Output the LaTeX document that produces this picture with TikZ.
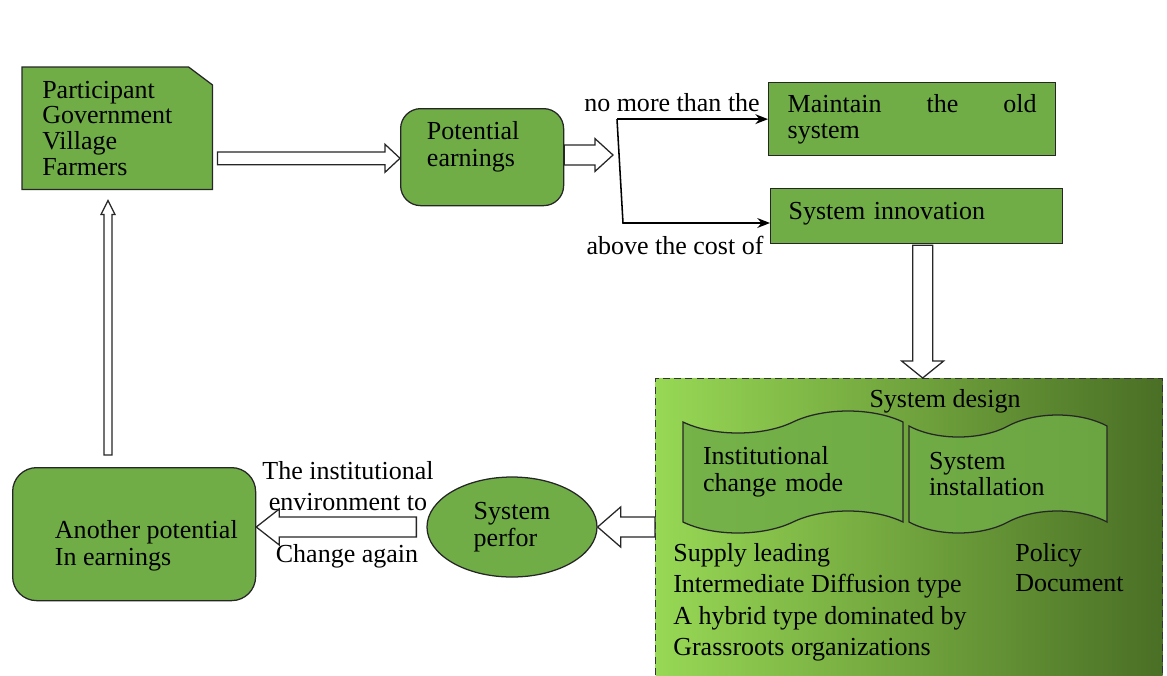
\documentclass[tikz,border=0pt]{standalone}
\usepackage{fontspec}
\setmainfont{Liberation Serif}
\usetikzlibrary{shapes,calc,positioning,arrows.meta,backgrounds}
\definecolor{boxgreen}{HTML}{70AD47}
\definecolor{lightgreen}{HTML}{97D855}
\definecolor{midgreen}{HTML}{86C44B}
\definecolor{darkgreen}{HTML}{4A6F25}

% hollow block arrow: start, end, shaft half width, head half width, head length
\newcommand{\hollowarrow}[5]{%
  \coordinate (tmph) at ($(#2)!#5!(#1)$);
  \draw[blockarrow] ($(#1)!#3!90:(#2)$) -- ($(tmph)!#3!90:(#2)$) -- ($(tmph)!#4!90:(#2)$)
    -- (#2) -- ($(tmph)!#4!-90:(#2)$) -- ($(tmph)!#3!-90:(#2)$) -- ($(#1)!#3!-90:(#2)$) -- cycle;
}

\begin{document}
\begin{tikzpicture}[x=0.25mm, y=-0.25mm,
    every node/.style={font=\fontsize{18.5}{19}\selectfont},
    gbox/.style={draw=black!85, fill=boxgreen, line width=0.9pt},
    blockarrow/.style={draw=black!85, fill=white, line width=0.9pt, line join=miter},
    thinarrow/.style={draw=black, line width=1.1pt, -{Stealth[length=9pt,width=7pt]}},
    tapebox/.style={gbox, tape, fill opacity=0.85, text opacity=1, tape bend height=5.5mm, align=left}]

    \useasboundingbox (0,0) rectangle (1167,675);

    % Design region
    \node[draw=black!80, dashed, dash pattern=on 5pt off 3pt, line width=0.8pt,
          left color=lightgreen, middle color=midgreen, right color=darkgreen,
          anchor=north west, minimum width=507*0.25mm, minimum height=305*0.25mm] (design) at (655,378) {};

    % Participant
    \node[anchor=north west, minimum width=190*0.25mm, minimum height=122*0.25mm,
          inner xsep=20*0.25mm, text width=150*0.25mm, align=left,
          font=\fontsize{18.5}{18.3}\selectfont] (part) at (22,67)
          {Participant\\Government\\Village\\Farmers};
    \begin{scope}[on background layer]
      \draw[gbox] (part.south west) -- (part.north west) -- ($(part.north east)+(-24,0)$)
        -- ($(part.north east)+(0,18)$) -- (part.south east) -- cycle;
    \end{scope}

    % Potential earnings
    \node[gbox, rounded corners=5mm, anchor=north west, minimum width=163*0.25mm,
          minimum height=97*0.25mm] (pot) at (400,108) {};
    \node[anchor=west, align=left] (pottxt) at (422,147) {Potential\\earnings};

    % Outcomes
    \node[gbox, anchor=north west, minimum width=287*0.25mm, minimum height=73*0.25mm,
          inner xsep=19*0.25mm, text width=249*0.25mm, align=left] (maint) at (768,82)
          {Maintain\hfill the\hfill old\\system};
    \node[gbox, anchor=north west, minimum width=292*0.25mm, inner xsep=18*0.25mm,
          text width=256*0.25mm, align=left, inner ysep=1mm, text height=6.75mm,
          text depth=5mm] (innov) at (770,188) {System innovation};

    % System design
    \node (sysdesign) at (945,401) {System design};
    \node[tapebox, minimum width=220*0.25mm, minimum height=122*0.25mm,
          inner xsep=20*0.25mm, text width=180*0.25mm] (mode) at (793,472)
          {Institutional\\change mode};
    \node[tapebox, minimum width=198*0.25mm, minimum height=118*0.25mm,
          inner xsep=20*0.25mm, text width=158*0.25mm] (install) at (1008,474)
          {System\\installation};
    \node[anchor=north west, inner sep=0pt, align=left,
          font=\fontsize{18.5}{22.3}\selectfont] (modes) at (673,543)
          {Supply leading\\Intermediate Diffusion type\\A hybrid type dominated by\\Grassroots organizations};
    \node[anchor=north west, inner sep=0pt, align=left,
          font=\fontsize{18.5}{21.5}\selectfont] (policy) at (1015,543) {Policy\\Document};

    % Performance and feedback
    \node[gbox, ellipse, minimum width=170*0.25mm, minimum height=100*0.25mm,
          align=left] (perf) at (512,527) {System\\perfor};
    \node[gbox, rounded corners=6mm, anchor=north west, minimum width=243*0.25mm,
          minimum height=133*0.25mm] (another) at (12,467) {};
    \node[anchor=west, align=left] (anothertxt) at (50,546) {Another potential\\In earnings};

    % Labels
    \node (nomore) at (672,103) {no more than the};
    \node (above) at (675,245) {above the cost of};
    \node[align=center, font=\fontsize{18.5}{22}\selectfont] (envtxt) at (348,486)
          {The institutional\\environment to};
    \node (again) at (347,556) {Change again};

    % Connectors
    \coordinate (a1s) at ($(part.east)+(5,30)$);
    \hollowarrow{a1s}{pot.west |- a1s}{1.6mm}{3.5mm}{3.75mm}

    \coordinate (ftop) at (maint.west -| 617,0);
    \coordinate (fbot) at (623,223);
    \coordinate (a2e) at (613,155);
    \hollowarrow{pot.east |- a2e}{a2e}{2.5mm}{4.1mm}{4.5mm}
    \draw[thinarrow] (ftop) -- (maint.west);
    \draw[thinarrow] (ftop) -- (fbot) -- (fbot -| innov.west);

    \coordinate (a3s) at ($(innov.south)+(6,1)$);
    \hollowarrow{a3s}{a3s |- design.north}{2.5mm}{5.25mm}{4.25mm}

    \coordinate (a4s) at (design.west |- perf.east);
    \hollowarrow{a4s}{perf.east}{2.5mm}{5mm}{5.75mm}

    \coordinate (a5s) at ($(perf.west)+(-10,0)$);
    \hollowarrow{a5s}{another.east |- a5s}{2.5mm}{4.5mm}{5.75mm}

    \coordinate (a6s) at (108,455);
    \coordinate (a6e) at ($(a6s |- part.south)+(0,11)$);
    \hollowarrow{a6s}{a6e}{1mm}{1.75mm}{3.5mm}
\end{tikzpicture}
\end{document}
